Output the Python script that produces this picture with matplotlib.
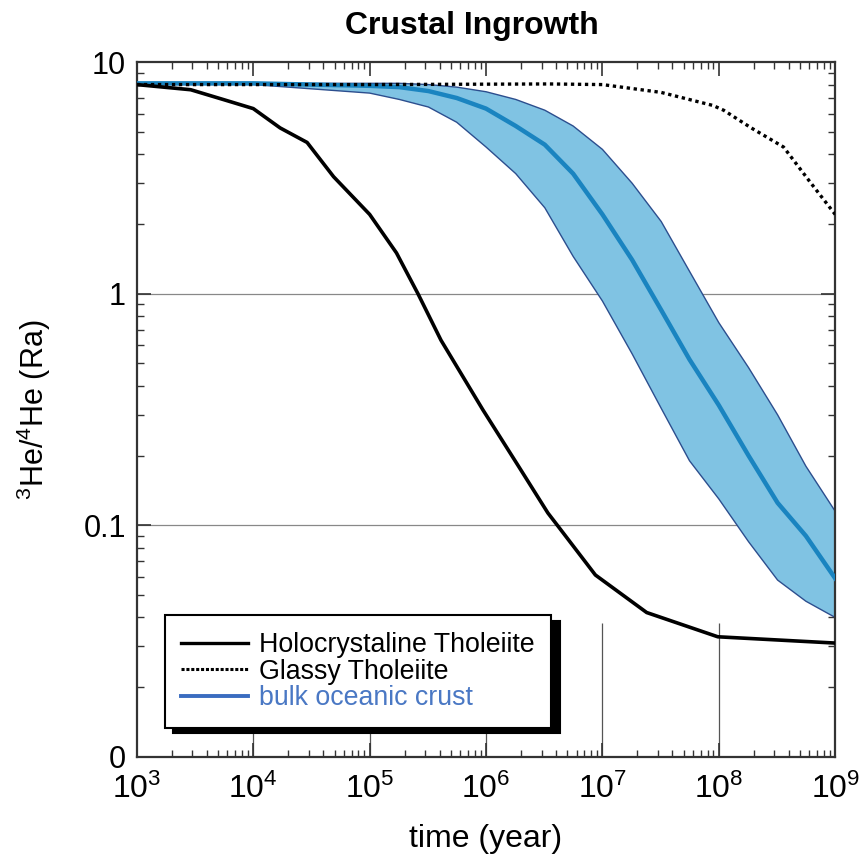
import numpy as np
import matplotlib
matplotlib.use("Agg")
import matplotlib.pyplot as plt
from matplotlib.ticker import FixedLocator, FixedFormatter, LogLocator, NullFormatter

plt.rcParams['font.family'] = ['Liberation Sans', 'DejaVu Sans']
plt.rcParams['mathtext.fontset'] = 'custom'
plt.rcParams['mathtext.rm'] = 'Liberation Sans'
plt.rcParams['mathtext.it'] = 'Liberation Sans'

# Holocrystaline Tholeiite (solid black)
holo_t = [1e3, 2.9e3, 5.5e3, 1e4, 1.7e4, 2.9e4, 4.9e4, 1e5, 1.7e5, 2.6e5, 4.1e5,
          9.4e5, 1.9e6, 3.4e6, 4.1e6, 8.7e6, 2.4e7, 9.8e7, 1e9]
holo_v = [8.0, 7.6, 6.9, 6.3, 5.2, 4.5, 3.2, 2.2, 1.5, 1.0, 0.63,
          0.315, 0.18, 0.113, 0.1, 0.061, 0.042, 0.033, 0.031]

# Glassy Tholeiite (dotted black)
glassy_t = [1e3, 1e5, 3.5e6, 1e7, 3.2e7, 8.9e7, 1.1e8, 1.9e8, 3.6e8, 6.2e8, 1e9]
glassy_v = [8.0, 8.0, 8.05, 8.0, 7.4, 6.5, 6.2, 5.2, 4.3, 3.0, 2.2]

# bulk oceanic crust: central line and envelope
bulk_t = [1e3, 1e4, 1e5, 1.8e5, 3.2e5, 5.6e5, 1e6, 1.8e6, 3.2e6, 5.6e6, 1e7,
          1.8e7, 3.2e7, 5.6e7, 1e8, 1.8e8, 3.2e8, 5.6e8, 1e9]
bulk_mid = [8.1, 8.1, 7.9, 7.8, 7.5, 7.0, 6.3, 5.3, 4.4, 3.3, 2.2,
            1.4, 0.85, 0.52, 0.33, 0.2, 0.125, 0.09, 0.059]
bulk_hi = [8.1, 8.1, 8.1, 8.1, 8.0, 7.8, 7.45, 6.9, 6.2, 5.3, 4.2,
           3.0, 2.05, 1.25, 0.75, 0.48, 0.3, 0.18, 0.115]
bulk_lo = [8.0, 8.0, 7.35, 6.9, 6.4, 5.5, 4.3, 3.3, 2.35, 1.45, 0.93,
           0.55, 0.32, 0.19, 0.13, 0.085, 0.058, 0.047, 0.040]

decades = [1e4, 1e5, 1e6, 1e7, 1e8]
xticks = [1e3, 1e4, 1e5, 1e6, 1e7, 1e8, 1e9]
xlabels = ['$10^{3}$', '$10^{4}$', '$10^{5}$', '$10^{6}$', '$10^{7}$', '$10^{8}$', '$10^{9}$']
yticks = [0.01, 0.1, 1, 10]
ylabels = ['0', '0.1', '1', '10']

fig = plt.figure(figsize=(8.61, 8.63), dpi=100)
ax = fig.add_axes([0.159, 0.123, 0.811, 0.805])
ax.set_xscale('log')
ax.set_yscale('log')
ax.set_xlim(1e3, 1e9)
ax.set_ylim(0.01, 10)

# grid pieces
for yv in [1, 0.1]:
    ax.axhline(yv, color='#888888', lw=0.9, zorder=1)
ax.vlines(decades, 0.01, 0.038, color='#555555', lw=0.9, zorder=1)

# envelope
poly_t = list(bulk_t) + list(bulk_t[::-1])
poly_v = list(bulk_hi) + list(bulk_lo[::-1])
ax.fill(poly_t, poly_v, facecolor='#80c3e3', edgecolor='#2c4e8e', lw=1.0, zorder=2)
ax.plot(bulk_t, bulk_mid, color='#1a84c0', lw=3.2, zorder=3)

ax.plot(holo_t, holo_v, color='black', lw=2.6, zorder=4)
ax.plot(glassy_t, glassy_v, color='black', lw=2.4, ls=(0, (1, 1.1)), zorder=4)

# legend proxies
h1, = ax.plot([], [], color='black', lw=2.4, label='Holocrystaline Tholeiite')
h2, = ax.plot([], [], color='black', lw=2.2, ls=(0, (1, 0.6)), label='Glassy Tholeiite')
h3, = ax.plot([], [], color='#3a6cc0', lw=2.8, label='bulk oceanic crust')
leg = ax.legend(handles=[h1, h2, h3], loc='lower left', bbox_to_anchor=(0.04, 0.042),
                borderaxespad=0, fancybox=False, framealpha=1, edgecolor='black',
                fontsize=19.3, handlelength=2.5, handletextpad=0.4, labelspacing=0.02,
                borderpad=0.62,
                shadow={'color': 'black', 'alpha': 1, 'ox': 6, 'oy': -4})
leg.get_frame().set_linewidth(1.5)
leg.set_zorder(10)
leg.get_texts()[2].set_color('#4a78c4')

# ticks
ax.xaxis.set_major_locator(FixedLocator(xticks))
ax.xaxis.set_major_formatter(FixedFormatter(xlabels))
ax.xaxis.set_minor_locator(LogLocator(base=10, subs=np.arange(2, 10), numticks=20))
ax.xaxis.set_minor_formatter(NullFormatter())
ax.yaxis.set_major_locator(FixedLocator(yticks))
ax.yaxis.set_major_formatter(FixedFormatter(ylabels))
ax.yaxis.set_minor_locator(LogLocator(base=10, subs=np.arange(2, 10), numticks=20))
ax.yaxis.set_minor_formatter(NullFormatter())
ax.tick_params(which='both', direction='in', top=True, right=True, color='#333333')
ax.tick_params(which='major', length=10, width=1.2, labelsize=23)
ax.tick_params(axis='x', which='major', pad=12)
ax.tick_params(axis='y', which='major', pad=8, labelsize=22)
ax.tick_params(which='minor', length=5, width=1.0)
for s in ax.spines.values():
    s.set_linewidth(1.6)
    s.set_color('#333333')

ax.set_xlabel('time (year)', fontsize=23, labelpad=14)
ax.set_ylabel('$^{3}$He/$^{4}$He (Ra)', fontsize=22, labelpad=22)
ax.set_title('Crustal Ingrowth', fontsize=23, fontweight='bold', pad=20, x=0.48)

fig.savefig('out.png', dpi=100)
